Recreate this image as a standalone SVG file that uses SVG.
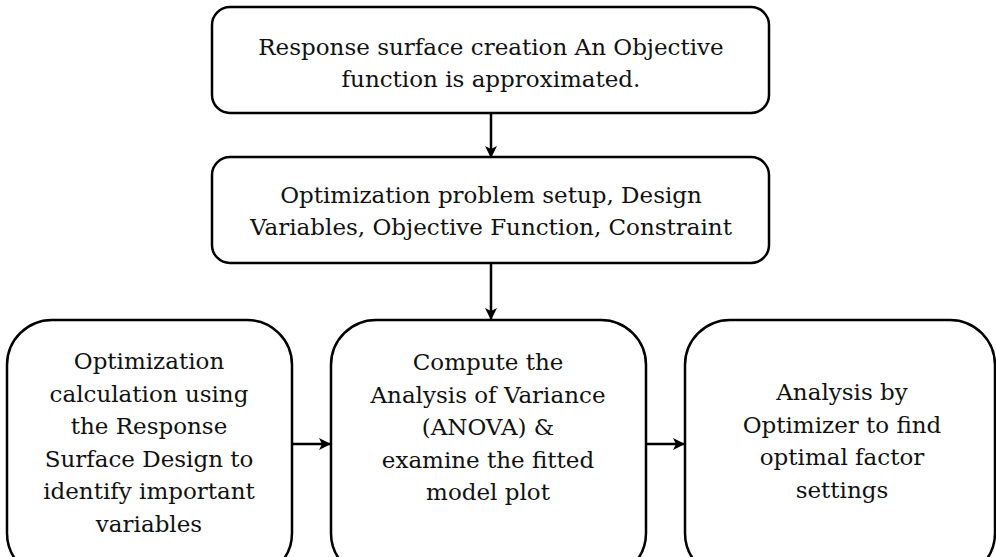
<svg xmlns="http://www.w3.org/2000/svg" width="996" height="557" viewBox="0 0 996 557">
  <style>
    .box { fill: #ffffff; stroke: #000000; stroke-width: 2.5; }
    .lbl { font-family: "DejaVu Serif", "Liberation Serif", serif; font-size: 23px; fill: #111111; text-anchor: middle; }
    .conn { stroke: #000000; stroke-width: 2.5; fill: none; marker-end: url(#arrow); }
  </style>
  <defs>
    <marker id="arrow" viewBox="0 0 12 12" refX="11" refY="6" markerWidth="12" markerHeight="12" markerUnits="userSpaceOnUse" orient="auto">
      <path d="M0,0 L12,6 L0,12 L3,6 Z" fill="#000000"/>
    </marker>
  </defs>

  <g id="connectors">
    <line class="conn" x1="491" y1="113" x2="491" y2="157"/>
    <line class="conn" x1="491" y1="263" x2="491" y2="319"/>
    <line class="conn" x1="292" y1="444" x2="330" y2="444"/>
    <line class="conn" x1="646" y1="444" x2="684" y2="444"/>
  </g>

  <g id="response-surface">
    <rect class="box" x="212" y="7" width="557" height="106" rx="18"/>
    <text class="lbl" x="491" y="55">Response surface creation An Objective</text>
    <text class="lbl" x="491" y="87">function is approximated.</text>
  </g>

  <g id="problem-setup">
    <rect class="box" x="212" y="157" width="557" height="106" rx="18"/>
    <text class="lbl" x="491" y="203">Optimization problem setup, Design</text>
    <text class="lbl" x="491" y="235">Variables, Objective Function, Constraint</text>
  </g>

  <g id="optimization-calc">
    <rect class="box" x="7" y="320" width="285" height="258" rx="45"/>
    <text class="lbl" x="149" y="369">Optimization</text>
    <text class="lbl" x="149" y="401.5">calculation using</text>
    <text class="lbl" x="149" y="434">the Response</text>
    <text class="lbl" x="149" y="466.5">Surface Design to</text>
    <text class="lbl" x="149" y="499">identify important</text>
    <text class="lbl" x="149" y="531.5">variables</text>
  </g>

  <g id="anova">
    <rect class="box" x="331" y="320" width="315" height="258" rx="45"/>
    <text class="lbl" x="488" y="370">Compute the</text>
    <text class="lbl" x="488" y="402.5">Analysis of Variance</text>
    <text class="lbl" x="488" y="435">(ANOVA) &amp;</text>
    <text class="lbl" x="488" y="467.5">examine the fitted</text>
    <text class="lbl" x="488" y="500">model plot</text>
  </g>

  <g id="optimizer">
    <rect class="box" x="685" y="320" width="310" height="258" rx="45"/>
    <text class="lbl" x="842" y="400">Analysis by</text>
    <text class="lbl" x="842" y="432.5">Optimizer to find</text>
    <text class="lbl" x="842" y="465">optimal factor</text>
    <text class="lbl" x="842" y="497.5">settings</text>
  </g>
</svg>
